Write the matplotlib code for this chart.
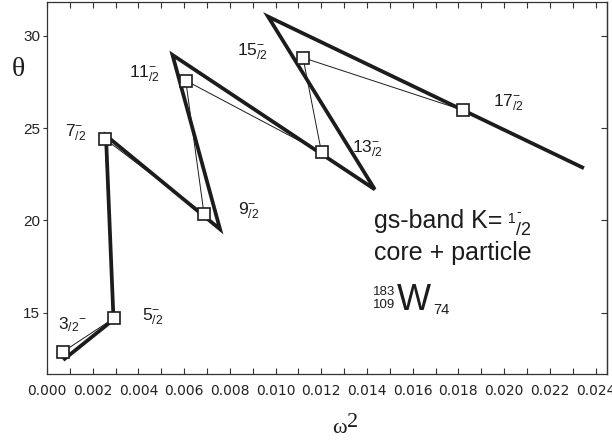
import matplotlib
matplotlib.use('Agg')
import matplotlib.pyplot as plt
from matplotlib.ticker import MultipleLocator

plt.rcParams['mathtext.fontset'] = 'custom'
plt.rcParams['mathtext.rm'] = 'Liberation Sans'
plt.rcParams['mathtext.it'] = 'Liberation Sans'
plt.rcParams['mathtext.bf'] = 'Liberation Sans:bold'

# core + particle calculation (thick line)
theory_w2 = [0.00071, 0.00291, 0.00258, 0.00757, 0.00549, 0.01434, 0.00967, 0.02349]
theory_theta = [12.43, 14.62, 24.60, 19.52, 28.97, 21.68, 31.05, 22.83]

# experimental points (squares, thin line)
exp_w2 = [0.00068, 0.00291, 0.00254, 0.00687, 0.00607, 0.01201, 0.01120, 0.01818]
exp_theta = [12.86, 14.68, 24.41, 20.35, 27.58, 23.68, 28.82, 25.98]

spin_num = ['3', '5', '7', '9', '11', '13', '15', '17']
# label anchor positions (left, centre) in data units
label_x = [0.00048, 0.00416, 0.00079, 0.00836, 0.00359, 0.01334, 0.00831, 0.01951]
label_y = [14.33, 14.79, 24.74, 20.54, 27.97, 23.90, 29.16, 26.39]

x_ticks = [0.000, 0.002, 0.004, 0.006, 0.008, 0.010, 0.012, 0.014,
           0.016, 0.018, 0.020, 0.022, 0.024]
x_ticklabels = ['%.3f' % v for v in x_ticks]
y_ticks = [15, 20, 25, 30]
y_ticklabels = ['15', '20', '25', '30']

W, H = 612, 440


def P(x, y):
    return x / W, 1 - y / H


fig = plt.figure(figsize=(6.12, 4.40), dpi=100)
ax = fig.add_axes([47 / W, 1 - 374 / H, 560 / W, 372 / H])
ink = '#1c1c1c'

ax.plot(theory_w2, theory_theta, color=ink, lw=2.7, solid_joinstyle='miter',
        solid_capstyle='butt', zorder=2)
ax.plot(exp_w2, exp_theta, color=ink, lw=0.7, zorder=3)
ax.plot(exp_w2, exp_theta, ls='none', marker='s', ms=8.5, mfc='white',
        mec=ink, mew=1.2, zorder=4)

for n, lx, ly in zip(spin_num, label_x, label_y):
    if n == '3':
        s = r'$3_{/2}{}^{-}$'
    else:
        s = r'$%s_{/2}^{-}$' % n
    ax.text(lx, ly, s, fontsize=12.5, ha='left', va='center', color=ink, zorder=5)

ax.set_xlim(0, 0.0245)
ax.set_ylim(11.67, 31.84)

ax.set_xticks(x_ticks, x_ticklabels, fontfamily='DejaVu Sans', fontsize=10, color='#222222')
ax.xaxis.set_minor_locator(MultipleLocator(0.001))
ax.set_yticks(y_ticks, y_ticklabels, fontfamily='Liberation Sans', fontsize=11, color='#222222')

ax.tick_params(axis='x', which='both', direction='in', top=True, bottom=True,
               length=4.3, width=0.8, pad=7, color='#333333')
ax.tick_params(axis='y', which='major', direction='out', left=True, right=False,
               length=3, width=0.8, pad=2, color='#333333')
sec = ax.secondary_yaxis('right')
sec.set_yticks(y_ticks)
sec.tick_params(direction='in', length=4.3, width=0.8, labelright=False, color='#333333')
for sp in list(ax.spines.values()) + list(sec.spines.values()):
    sp.set_linewidth(0.9)
    sp.set_color('#333333')

# annotation block
fs = 'Liberation Sans'
fig.text(*P(374, 228), 'gs-band K=', fontsize=18, family=fs,
         va='baseline', ha='left', color=ink)
fig.text(*P(508, 223), '1', fontsize=10, family=fs, va='baseline', ha='left', color=ink)
fig.text(*P(516, 235), '/2', fontsize=13, family=fs, va='baseline', ha='left', color=ink)
fig.text(*P(516, 216), '-', fontsize=10, family=fs, va='baseline', ha='left', color=ink)
fig.text(*P(374, 260), 'core + particle', fontsize=18, family=fs,
         va='baseline', ha='left', color=ink)
fig.text(*P(373, 295), '183', fontsize=9.5, family=fs, va='baseline', ha='left', color=ink)
fig.text(*P(373, 308), '109', fontsize=9.5, family=fs, va='baseline', ha='left', color=ink)
fig.text(*P(397, 310), 'W', fontsize=26, family=fs, va='baseline', ha='left', color=ink)
fig.text(*P(433, 314), '74', fontsize=10.5, family=fs, va='baseline', ha='left', color=ink)

# axis titles
fig.text(*P(18, 69), 'θ', fontsize=20, family='Liberation Serif',
         ha='center', va='center', color=ink)
fig.text(*P(332, 433), 'ω', fontsize=16, family='Liberation Serif',
         ha='left', va='baseline', color=ink)
fig.text(*P(347, 427), '2', fontsize=16, family='Liberation Serif',
         ha='left', va='baseline', color=ink)

fig.savefig('out.png', dpi=100)
